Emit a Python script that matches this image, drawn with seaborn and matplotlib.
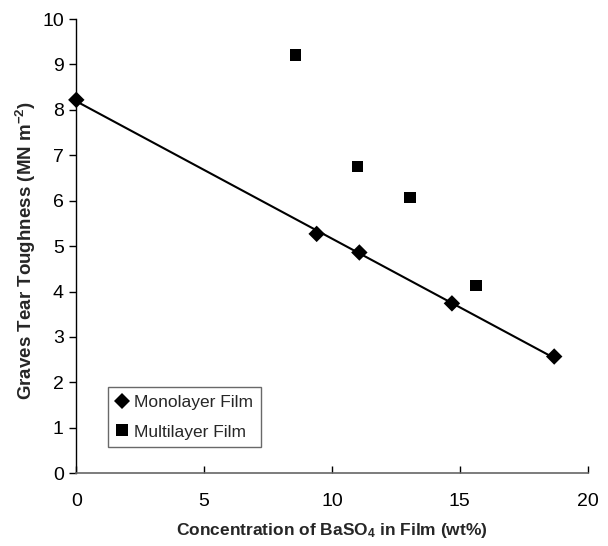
import pandas as pd
import matplotlib.pyplot as plt
import seaborn as sns

# monolayer film data
mono_conc = [0, 9.4, 11.07, 14.69, 18.69]
mono_tough = [8.22, 5.27, 4.86, 3.74, 2.57]

# multilayer film data
multi_conc = [8.58, 11.0, 13.05, 15.64]
multi_tough = [9.21, 6.75, 6.07, 4.13]

mono_df = pd.DataFrame({'conc': mono_conc, 'tough': mono_tough, 'film': 'Monolayer Film'})
multi_df = pd.DataFrame({'conc': multi_conc, 'tough': multi_tough, 'film': 'Multilayer Film'})
df = pd.concat([mono_df, multi_df], ignore_index=True)

sns.set_theme(style="white")
plt.rcParams['font.family'] = ['Liberation Sans', 'DejaVu Sans']
plt.rcParams['mathtext.fontset'] = 'custom'
plt.rcParams['mathtext.bf'] = 'Liberation Sans:bold'
plt.rcParams['mathtext.rm'] = 'Liberation Sans:bold'
plt.rcParams['mathtext.default'] = 'bf'

fig = plt.figure(figsize=(6.08, 5.46), dpi=100)
ax = fig.add_axes([0.1255, 0.1332, 0.8411, 0.832])

# trend line for monolayer film
sns.regplot(data=mono_df, x='conc', y='tough', scatter=False, ci=None,
            color='black', line_kws={'linewidth': 1.5}, ax=ax)

sns.scatterplot(data=df, x='conc', y='tough', hue='film', style='film',
                markers={'Monolayer Film': 'D', 'Multilayer Film': 's'},
                palette={'Monolayer Film': 'black', 'Multilayer Film': 'black'},
                s=70, edgecolor='black', linewidth=0, ax=ax, clip_on=False, zorder=3)

ax.set_xlim(0, 20)
ax.set_ylim(0, 10)
ax.set_xticks([0, 5, 10, 15, 20])
ax.set_yticks(range(0, 11))
ax.tick_params(axis='x', direction='in', length=5, width=1, labelsize=14, pad=14, colors='black')
ax.tick_params(axis='y', direction='out', length=5, width=1, labelsize=14, pad=4, colors='black')
ax.tick_params(axis='both', left=True, bottom=True)

for side in ['top', 'right']:
    ax.spines[side].set_visible(False)
ax.spines['left'].set_color('black')
ax.spines['bottom'].set_color('#666666')
ax.spines['left'].set_linewidth(1)
ax.spines['bottom'].set_linewidth(1.2)

ax.set_xlabel(r'Concentration of BaSO$_{4}$ in Film (wt%)', fontsize=12.5,
              fontweight='bold', labelpad=8)
ax.set_ylabel(r'Graves Tear Toughness (MN m$^{-2}$)', fontsize=13.5,
              fontweight='bold')
ax.yaxis.set_label_coords(-0.074, 0.49)

leg = ax.legend(loc='lower left', bbox_to_anchor=(0.062, 0.057), fontsize=12.5,
                frameon=True, fancybox=False, shadow=False, handletextpad=0.33,
                borderpad=0.45, labelspacing=0.85, handlelength=0.7, borderaxespad=0)
leg.get_frame().set_edgecolor('#444444')
leg.get_frame().set_linewidth(1)

fig.savefig('out.png', dpi=100)
